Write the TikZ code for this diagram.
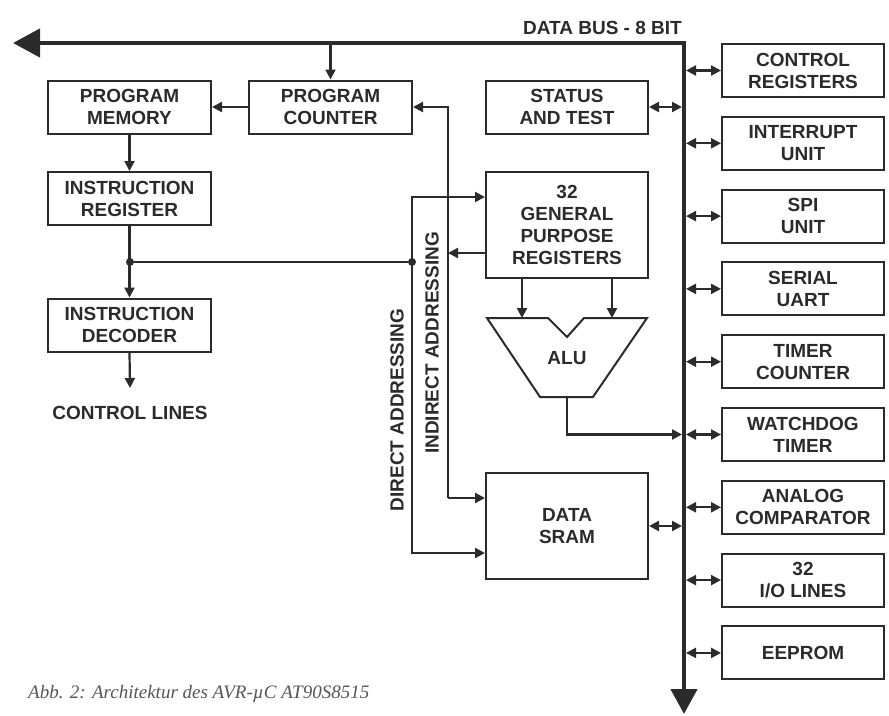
\documentclass[tikz,border=0pt]{standalone}
\usepackage{fontspec}
\setmainfont{Liberation Sans}
\newfontfamily\captionserif{Liberation Serif}
\usetikzlibrary{arrows.meta}
\definecolor{ink}{HTML}{2B2B2B}
\definecolor{capgray}{HTML}{555555}

\begin{document}
\begin{tikzpicture}[x=1pt, y=-1pt,
    blk/.style={draw=ink, line width=2pt, minimum width=162pt, minimum height=53pt,
      align=center, inner sep=0pt, text=ink, font=\fontsize{19}{22}\selectfont\bfseries},
    lbl/.style={inner sep=0pt, text=ink, font=\fontsize{19}{22}\selectfont\bfseries},
    arr/.style={draw=ink, line width=2.2pt, -{Triangle[length=10pt,width=10pt]}},
    dbl/.style={draw=ink, line width=2.2pt, {Triangle[length=10pt,width=10pt]}-{Triangle[length=10pt,width=10pt]}},
    dot/.style={circle, fill=ink, inner sep=0pt, minimum size=8pt}]
  \useasboundingbox (0,0) rectangle (889,715);
  % Data bus
  \coordinate (busend) at (13,43);
  \coordinate (buscorner) at (684,43);
  \coordinate (busfoot) at (684,714);
  \coordinate (busL) at (682,0);
  \coordinate (busR) at (686,0);
  \draw[draw=ink, line width=4.5pt, {Triangle[length=27pt,width=28pt]}-{Triangle[length=25pt,width=26pt]}]
    (busend) -- (buscorner) -- (busfoot);
  \node[lbl, anchor=east] (buslabel) at (682,28) {DATA BUS - 8 BIT};
  % Peripherals on the bus
  \foreach \name/\txt [count=\i] in {ctrl/{CONTROL\\REGISTERS}, irq/{INTERRUPT\\UNIT},
      spi/{SPI\\UNIT}, uart/{SERIAL\\UART}, tc/{TIMER\\COUNTER}, wd/{WATCHDOG\\TIMER},
      ac/{ANALOG\\COMPARATOR}, io/{32\\I/O LINES}, ee/{EEPROM}} {
    \node[blk] (\name) at (803,{70.5+72.8*(\i-1)}) {\txt};
    \draw[dbl] (busR |- \name.west) -- (\name.west);
  }
  % Instruction path
  \node[blk, minimum width=163pt] (pm) at (129.5,107) {PROGRAM\\MEMORY};
  \node[blk, minimum width=163pt] (pc) at (330.5,107) {PROGRAM\\COUNTER};
  \node[blk, minimum width=163pt] (ir) at (129.5,198.5) {INSTRUCTION\\REGISTER};
  \node[blk, minimum width=163pt] (id) at (129.5,325) {INSTRUCTION\\DECODER};
  \node[lbl] (ctl) at (130,413) {CONTROL LINES};
  \coordinate (ctlend) at (130,388);
  \draw[arr] (pc.north |- buscorner) -- (pc.north);
  \draw[arr] (pc.west) -- (pm.east);
  \draw[arr] (pm.south) -- (ir.north);
  \draw[arr] (ir.south) -- (id.north);
  \draw[arr] (id.south) -- (ctlend);
  % Register file, ALU, SRAM
  \node[blk] (st) at (567,107) {STATUS\\AND TEST};
  \node[blk, minimum height=106pt] (gpr) at (567,225) {32\\GENERAL\\PURPOSE\\REGISTERS};
  \node[blk, minimum height=106pt] (sram) at (567,526) {DATA\\SRAM};
  \draw[dbl] (st.east) -- (st.east -| busL);
  \draw[dbl] (sram.east) -- (sram.east -| busL);
  \draw[draw=ink, line width=2pt] (487,318) -- (548,318) -- (567,337) -- (584,318)
    -- (647,318) -- (593,397) -- (540,397) -- cycle;
  \node[lbl] (alu) at (567,358) {ALU};
  \coordinate (aluinA) at (522,318);
  \coordinate (aluinB) at (612,318);
  \coordinate (aluout) at (567,397);
  \draw[arr] (gpr.south -| aluinA) -- (aluinA);
  \draw[arr] (gpr.south -| aluinB) -- (aluinB);
  \draw[arr] (aluout) |- (wd.west -| busL);
  % Addressing
  \node[dot] (j1) at (130,262) {};
  \node[dot] (j2) at (412,262) {};
  \draw[draw=ink, line width=2.2pt] (j1) -- (j2);
  \draw[arr] (j2.center) |- ([yshift=28pt]gpr.west);
  \draw[arr] (j2.center) |- ([yshift=-27pt]sram.west);
  \coordinate (indbot) at (448,498);
  \coordinate (gprout) at ([yshift=-28pt]gpr.west);
  \draw[arr] (indbot) |- (pc.east);
  \draw[arr] (indbot) -- (indbot -| sram.west);
  \draw[arr] (gprout) -- (gprout -| indbot);
  \node[lbl, rotate=90] (diraddr) at (397,410) {DIRECT ADDRESSING};
  \node[lbl, rotate=90] (indaddr) at (432,343) {INDIRECT ADDRESSING};
  % Caption
  \node[inner sep=0pt, anchor=west, text=capgray, font=\captionserif\itshape\fontsize{19}{22}\selectfont]
    (caption) at (28,694) {Abb. 2: Architektur des AVR-µC AT90S8515};
\end{tikzpicture}
\end{document}
